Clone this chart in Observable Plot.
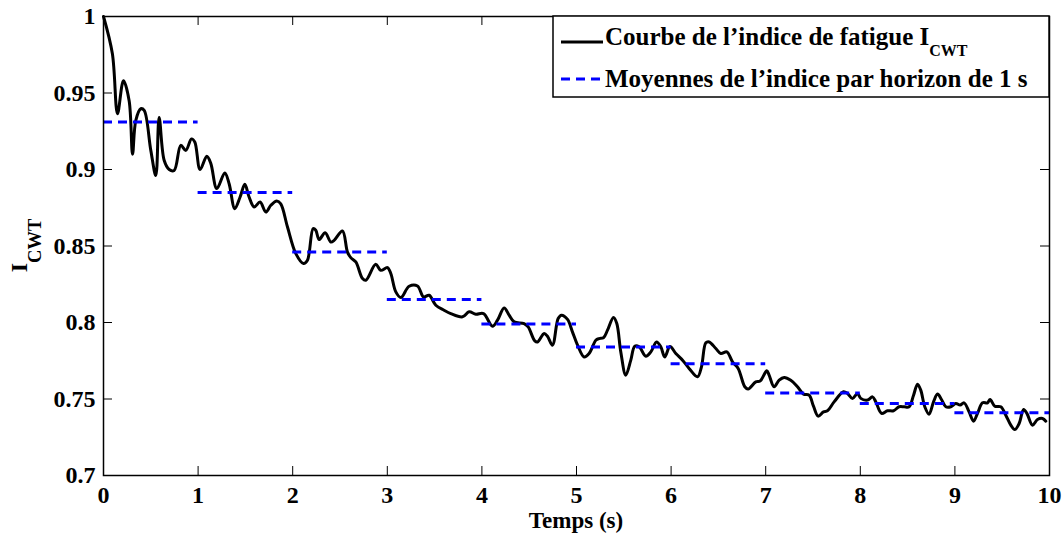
<!DOCTYPE html>
<html>
<head>
<meta charset="utf-8">
<script src="https://cdn.jsdelivr.net/npm/d3@7"></script>
<script src="https://cdn.jsdelivr.net/npm/@observablehq/plot@0.6"></script>
<style>
  html, body { margin: 0; padding: 0; background: white; }
</style>
</head>
<body>
<div id="chart"></div>
<script>
const time = [0.0,0.094,0.148,0.211,0.271,0.307,0.341,0.394,0.43,0.5,0.553,0.588,0.641,0.694,0.747,0.817,0.87,0.93,0.965,1.021,1.092,1.134,1.198,1.282,1.328,1.388,1.444,1.494,1.539,1.592,1.655,1.716,1.769,1.832,1.874,1.945,2.033,2.114,2.156,2.216,2.244,2.279,2.343,2.403,2.438,2.526,2.579,2.614,2.667,2.738,2.773,2.878,2.931,3.002,3.037,3.09,3.143,3.231,3.319,3.383,3.442,3.513,3.6,3.671,3.795,3.865,3.936,4.017,4.112,4.165,4.235,4.288,4.341,4.446,4.489,4.559,4.588,4.658,4.693,4.746,4.806,4.841,4.905,4.957,5.011,5.08,5.133,5.204,5.239,5.285,5.328,5.391,5.426,5.468,5.521,5.574,5.616,5.662,5.733,5.786,5.846,5.891,5.933,5.988,6.05,6.121,6.19,6.279,6.321,6.367,6.402,6.473,6.526,6.589,6.649,6.709,6.779,6.814,6.895,6.941,7.012,7.036,7.089,7.142,7.195,7.265,7.336,7.4,7.459,7.505,7.554,7.611,7.653,7.723,7.822,7.865,7.917,7.97,8.005,8.076,8.129,8.164,8.224,8.288,8.351,8.41,8.463,8.516,8.563,8.605,8.639,8.682,8.727,8.774,8.816,8.858,8.904,8.957,9.01,9.055,9.097,9.15,9.197,9.239,9.292,9.345,9.372,9.422,9.485,9.538,9.591,9.633,9.679,9.726,9.761,9.82,9.873,9.926,9.961];
const fatigueIndex = [1.0,0.9756,0.9365,0.958,0.945,0.91,0.932,0.9397,0.9386,0.9125,0.896,0.934,0.906,0.9,0.8994,0.9158,0.9125,0.92,0.918,0.9,0.9086,0.904,0.8875,0.8977,0.8907,0.8744,0.882,0.8903,0.882,0.8755,0.8787,0.8722,0.8766,0.8794,0.8775,0.8624,0.845,0.8385,0.8407,0.8614,0.8603,0.8542,0.8587,0.8526,0.8537,0.8598,0.846,0.8424,0.8396,0.8287,0.8276,0.838,0.8341,0.8359,0.832,0.82,0.8163,0.8237,0.8239,0.8167,0.8178,0.8113,0.808,0.8058,0.8037,0.807,0.8054,0.8058,0.7976,0.8015,0.8095,0.8048,0.8004,0.7993,0.7971,0.788,0.7873,0.7928,0.791,0.7852,0.8026,0.8048,0.802,0.7939,0.7852,0.7775,0.7797,0.7884,0.7895,0.79,0.795,0.8033,0.7993,0.7808,0.7656,0.7754,0.7845,0.7841,0.778,0.7808,0.7873,0.7841,0.7775,0.7843,0.7797,0.7754,0.77,0.7645,0.771,0.7867,0.7873,0.783,0.7797,0.7808,0.7743,0.77,0.758,0.7565,0.7612,0.7617,0.7684,0.7656,0.758,0.7623,0.7641,0.7623,0.758,0.7532,0.7525,0.7453,0.7388,0.7416,0.7423,0.7481,0.7547,0.7536,0.7504,0.7536,0.7504,0.7493,0.7514,0.7481,0.7406,0.7423,0.7423,0.7449,0.7449,0.7449,0.7525,0.7597,0.7558,0.7449,0.7401,0.7481,0.7532,0.7497,0.7449,0.7449,0.7471,0.746,0.7475,0.7416,0.7355,0.7406,0.7475,0.7475,0.7497,0.7453,0.7449,0.7394,0.7329,0.73,0.734,0.7432,0.7406,0.7329,0.7366,0.7373,0.7355];

const horizonStart = [0,1,2,3,4,5,6,7,8,9];
const horizonEnd = [1,2,3,4,5,6,7,8,9,10];
const horizonMean = [0.931,0.885,0.846,0.815,0.799,0.784,0.773,0.754,0.747,0.741];

const xTicks = [0,1,2,3,4,5,6,7,8,9,10];
const yTicks = [0.7,0.75,0.8,0.85,0.9,0.95,1];
const yTickLabels = ["0.7","0.75","0.8","0.85","0.9","0.95","1"];

const xLabel = "Temps (s)";
const yLabelMain = "I";
const yLabelSub = "CWT";
const legend1 = "Courbe de l\u2019indice de fatigue I";
const legend1Sub = "CWT";
const legend2 = "Moyennes de l\u2019indice par horizon de 1 s";

const curveData = time.map((t, i) => ({t, v: fatigueIndex[i]}));
const meanData = horizonStart.map((s, i) => ({s, e: horizonEnd[i], v: horizonMean[i]}));

const W = 1064, H = 534;
const mL = 103, mR = 15, mT = 16, mB = 59;
const pw = W - mL - mR, ph = H - mT - mB;
const tk = 9;
const font = "'Liberation Serif', 'Times New Roman', serif";

const chart = Plot.plot({
  width: W, height: H,
  marginLeft: mL, marginRight: mR, marginTop: mT, marginBottom: mB,
  x: {domain: [0, 10]},
  y: {domain: [0.7, 1]},
  style: {fontFamily: font, fontWeight: "bold", fontSize: "24px", color: "black", background: "white"},
  marks: [
    Plot.line(curveData, {x: "t", y: "v", stroke: "black", strokeWidth: 3, curve: "catmull-rom"}),
    Plot.ruleY(meanData, {x1: "s", x2: "e", y: "v", stroke: "#0000ff", strokeWidth: 3, strokeDasharray: "9,6"}),
    Plot.tickX(xTicks, {x: d => d, insetTop: ph - tk, stroke: "black", strokeWidth: 1}),
    Plot.tickX(xTicks, {x: d => d, insetBottom: ph - tk, stroke: "black", strokeWidth: 1}),
    Plot.tickY(yTicks, {y: d => d, insetRight: pw - tk, stroke: "black", strokeWidth: 1}),
    Plot.tickY(yTicks, {y: d => d, insetLeft: pw - tk, stroke: "black", strokeWidth: 1}),
    Plot.frame({stroke: "black", strokeWidth: 1.5}),
    Plot.axisX(xTicks, {tickSize: 0, tickPadding: 10, label: null, tickFormat: d => String(d), fontWeight: "bold", fontSize: 24}),
    Plot.axisY(yTicks, {tickSize: 0, tickPadding: 8, label: null, tickFormat: d => yTickLabels[yTicks.indexOf(d)], fontWeight: "bold", fontSize: 24})
  ]
});

document.getElementById("chart").appendChild(chart);

const svg = d3.select(chart);

// x label
svg.append("text")
  .attr("x", mL + pw / 2).attr("y", 528)
  .attr("text-anchor", "middle")
  .style("font-family", font).style("font-weight", "bold").style("font-size", "23px")
  .text(xLabel);

// y label
const yl = svg.append("text")
  .attr("transform", "translate(27," + (mT + ph / 2) + ") rotate(-90)")
  .attr("text-anchor", "middle")
  .style("font-family", font).style("font-weight", "bold").style("font-size", "24px");
yl.append("tspan").text(yLabelMain);
yl.append("tspan").attr("dy", 14).style("font-size", "18.5px").text(yLabelSub);

// legend
const lg = svg.append("g");
lg.append("rect").attr("x", 553).attr("y", 16).attr("width", 496).attr("height", 81)
  .attr("fill", "white").attr("stroke", "black").attr("stroke-width", 1.5);
lg.append("line").attr("x1", 561).attr("x2", 603).attr("y1", 42).attr("y2", 42)
  .attr("stroke", "black").attr("stroke-width", 3);
lg.append("line").attr("x1", 561).attr("x2", 603).attr("y1", 79).attr("y2", 79)
  .attr("stroke", "#0000ff").attr("stroke-width", 3).attr("stroke-dasharray", "9,6");
const t1 = lg.append("text").attr("x", 605).attr("y", 45).attr("text-anchor", "start")
  .style("font-family", font).style("font-weight", "bold").style("font-size", "25px");
t1.append("tspan").text(legend1);
t1.append("tspan").attr("dy", 11).style("font-size", "16px").text(legend1Sub);
lg.append("text").attr("x", 605).attr("y", 87).attr("text-anchor", "start")
  .style("font-family", font).style("font-weight", "bold").style("font-size", "25px")
  .text(legend2);
</script>
</body>
</html>
